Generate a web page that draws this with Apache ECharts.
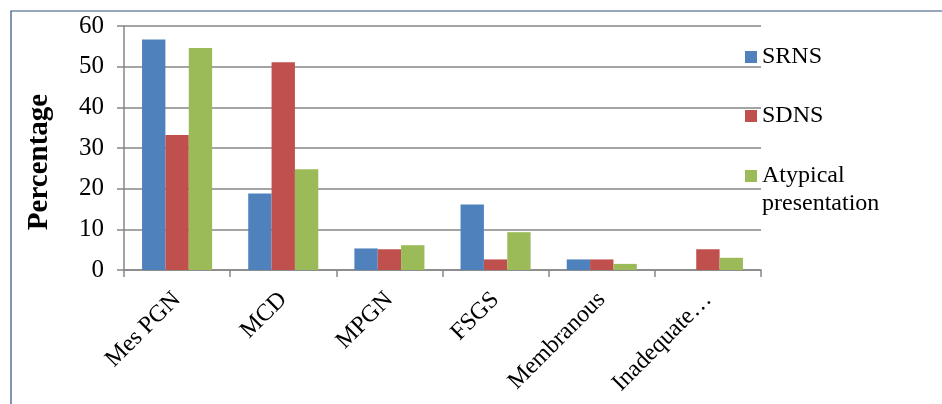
<!DOCTYPE html>
<html><head><meta charset="utf-8">
<script src="https://cdn.jsdelivr.net/npm/echarts@6/dist/echarts.min.js"></script>
<style>html,body{margin:0;padding:0;background:#fff}#c{width:942px;height:404px}</style>
</head><body><div id="c"></div>
<script>
const categories = ['Mes PGN', 'MCD', 'MPGN', 'FSGS', 'Membranous', 'Inadequate…'];
const srns = [56.7, 18.8, 5.3, 16.1, 2.6, 0];
const sdns = [33.2, 51.1, 5.1, 2.6, 2.6, 5.1];
const atypical = [54.6, 24.8, 6.1, 9.3, 1.5, 3.0];
const yTicks = [0, 10, 20, 30, 40, 50, 60];

const FONT = '"Liberation Serif", "Times New Roman", serif';
const chart = echarts.init(document.getElementById('c'));
const legendBase = {
  orient: 'vertical', left: 745, itemWidth: 12, itemHeight: 12, itemGap: 4,
  icon: 'rect', selectedMode: false, padding: 0,
  textStyle: { fontFamily: FONT, fontSize: 24, color: '#000' }
};
chart.setOption({
  animation: false,
  grid: { left: 124, right: 181, top: 26, bottom: 134 },
  legend: [
    Object.assign({}, legendBase, { top: 45, data: ['SRNS'] }),
    Object.assign({}, legendBase, { top: 104, data: ['SDNS'] }),
    Object.assign({}, legendBase, { top: 164, data: ['Atypical presentation'], formatter: () => 'Atypical' })
  ],
  graphic: [
    { type: 'polyline', shape: { points: [[11, 404], [11, 11], [942, 11]] }, style: { stroke: '#2F4F7F', lineWidth: 1.2, fill: null } },
    { type: 'text', left: 762, top: 192, style: { text: 'presentation', font: '24px ' + FONT, fill: '#000' } }
  ],
  xAxis: {
    type: 'category', data: categories,
    axisLine: { lineStyle: { color: '#868686', width: 1.5 } },
    axisTick: { show: true, length: 7, lineStyle: { color: '#868686', width: 1.5 } },
    axisLabel: { rotate: 45, margin: 26, fontFamily: FONT, fontSize: 24, color: '#000', interval: 0 }
  },
  yAxis: {
    type: 'value', min: yTicks[0], max: yTicks[yTicks.length - 1], interval: 10,
    name: 'Percentage', nameLocation: 'middle', nameGap: 70,
    nameTextStyle: { fontFamily: FONT, fontSize: 29, fontWeight: 'bold', color: '#000', padding: [0, 28, 0, 0] },
    axisLine: { show: true, lineStyle: { color: '#868686', width: 1.5 } },
    axisTick: { show: true, length: 7, lineStyle: { color: '#868686', width: 1.5 } },
    axisLabel: { margin: 20, fontFamily: FONT, fontSize: 25, color: '#000' },
    splitLine: { lineStyle: { color: '#868686', width: 1.5 } }
  },
  series: [
    { name: 'SRNS', type: 'bar', data: srns, barGap: '0%', barCategoryGap: '34%', itemStyle: { color: '#4F81BD' } },
    { name: 'SDNS', type: 'bar', data: sdns, itemStyle: { color: '#C0504D' } },
    { name: 'Atypical presentation', type: 'bar', data: atypical, itemStyle: { color: '#9BBB59' } }
  ]
});
</script></body></html>
